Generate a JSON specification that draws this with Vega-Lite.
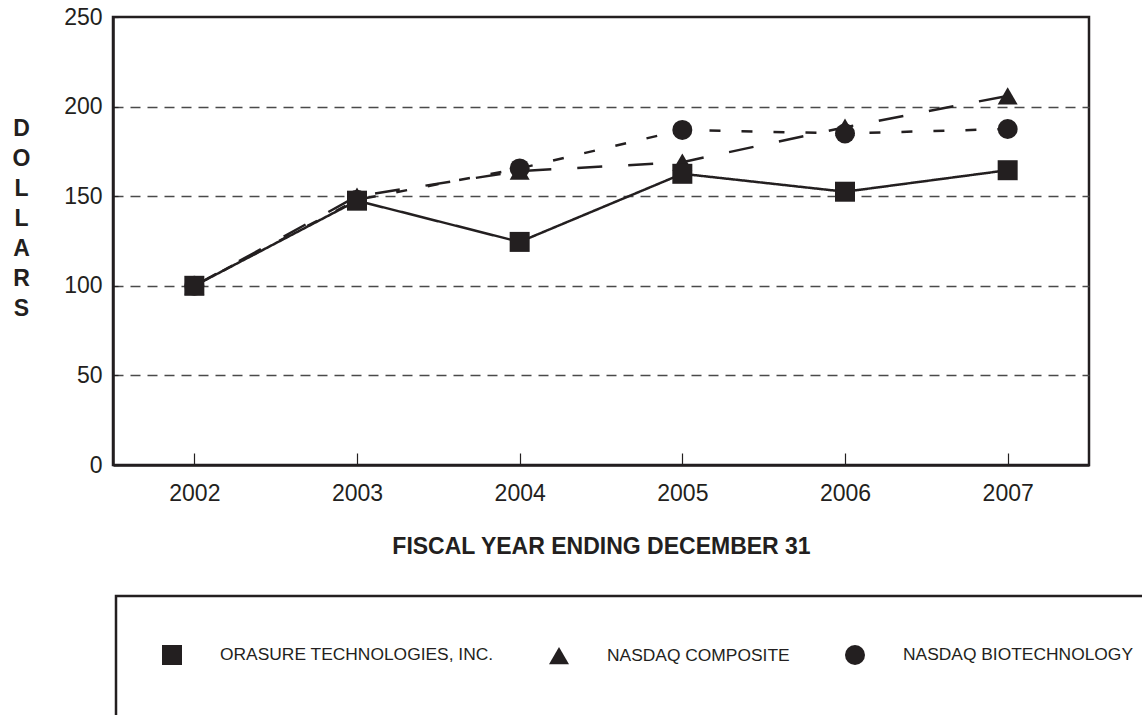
{
  "$schema": "https://vega.github.io/schema/vega-lite/v6.json",
  "width": 976,
  "height": 448,
  "autosize": {"type": "none"},
  "padding": {"left": 113, "top": 17, "right": 53, "bottom": 250},
  "background": "white",
  "config": {
    "font": "Liberation Sans",
    "view": {"stroke": "#231f20", "strokeWidth": 2.5},
    "legend": {"strokeWidth": 2.5}
  },
  "data": {
    "values": [
      {"year": "2002", "series": "NASDAQ COMPOSITE", "value": 100},
      {"year": "2003", "series": "NASDAQ COMPOSITE", "value": 150},
      {"year": "2004", "series": "NASDAQ COMPOSITE", "value": 164},
      {"year": "2005", "series": "NASDAQ COMPOSITE", "value": 169},
      {"year": "2006", "series": "NASDAQ COMPOSITE", "value": 188.5},
      {"year": "2007", "series": "NASDAQ COMPOSITE", "value": 206},
      {"year": "2002", "series": "NASDAQ BIOTECHNOLOGY", "value": 100},
      {"year": "2003", "series": "NASDAQ BIOTECHNOLOGY", "value": 148},
      {"year": "2004", "series": "NASDAQ BIOTECHNOLOGY", "value": 165.5},
      {"year": "2005", "series": "NASDAQ BIOTECHNOLOGY", "value": 187},
      {"year": "2006", "series": "NASDAQ BIOTECHNOLOGY", "value": 185},
      {"year": "2007", "series": "NASDAQ BIOTECHNOLOGY", "value": 187.5},
      {"year": "2002", "series": "ORASURE TECHNOLOGIES, INC.", "value": 100},
      {"year": "2003", "series": "ORASURE TECHNOLOGIES, INC.", "value": 147.5},
      {"year": "2004", "series": "ORASURE TECHNOLOGIES, INC.", "value": 124.5},
      {"year": "2005", "series": "ORASURE TECHNOLOGIES, INC.", "value": 162.5},
      {"year": "2006", "series": "ORASURE TECHNOLOGIES, INC.", "value": 152.5},
      {"year": "2007", "series": "ORASURE TECHNOLOGIES, INC.", "value": 164.5}
    ]
  },
  "encoding": {
    "x": {
      "field": "year",
      "type": "ordinal",
      "scale": {"type": "point", "padding": 0.5},
      "axis": {
        "title": "FISCAL YEAR ENDING DECEMBER 31",
        "titleFont": "Liberation Sans",
        "titleFontSize": 23,
        "titleFontWeight": "bold",
        "titleColor": "#231f20",
        "titleBaseline": "alphabetic",
        "titleY": 88,
        "labelAngle": 0,
        "labelFont": "Liberation Sans",
        "labelFontSize": 23,
        "labelColor": "#231f20",
        "labelPadding": 29,
        "tickSize": -12,
        "tickColor": "#231f20",
        "tickWidth": 1.2,
        "domainColor": "#231f20",
        "domainWidth": 2.5,
        "grid": false
      }
    },
    "y": {
      "field": "value",
      "type": "quantitative",
      "scale": {"domain": [0, 250], "nice": false},
      "axis": {
        "values": [0, 50, 100, 150, 200, 250],
        "title": ["D", "O", "L", "L", "A", "R", "S"],
        "titleAngle": 0,
        "titleFont": "Liberation Sans",
        "titleFontSize": 23,
        "titleFontWeight": "bold",
        "titleColor": "#231f20",
        "titleLineHeight": 30,
        "titleAlign": "center",
        "titleBaseline": "middle",
        "titleX": -92,
        "titleY": 111,
        "labelFont": "Liberation Sans",
        "labelFontSize": 23,
        "labelColor": "#231f20",
        "labelPadding": 16,
        "tickSize": -5,
        "tickColor": "#231f20",
        "tickWidth": 1.2,
        "domainColor": "#231f20",
        "domainWidth": 2.5,
        "grid": true,
        "gridColor": "#4a4a4a",
        "gridWidth": 1.3,
        "gridDash": [10, 7],
        "gridOpacity": {"condition": {"test": "datum.value === 0 || datum.value === 250", "value": 0}, "value": 1}
      }
    }
  },
  "layer": [
    {
      "mark": {"type": "line", "color": "#231f20", "strokeWidth": 2.5},
      "encoding": {
        "strokeDash": {
          "field": "series",
          "type": "nominal",
          "scale": {
            "domain": ["NASDAQ BIOTECHNOLOGY", "NASDAQ COMPOSITE", "ORASURE TECHNOLOGIES, INC."],
            "range": [[11, 21], [25, 26], [1, 0]]
          },
          "legend": null
        }
      }
    },
    {
      "mark": {"type": "point", "filled": true, "opacity": 1, "color": "#231f20", "size": 400},
      "encoding": {
        "shape": {
          "field": "series",
          "type": "nominal",
          "scale": {
            "domain": ["ORASURE TECHNOLOGIES, INC.", "NASDAQ COMPOSITE", "NASDAQ BIOTECHNOLOGY"],
            "range": ["square", "triangle-up", "circle"]
          },
          "legend": {
            "title": " ",
            "titleOrient": "bottom",
            "titleFontSize": 20,
            "titlePadding": 5,
            "orient": "none",
            "legendX": 3,
            "legendY": 579,
            "direction": "horizontal",
            "padding": 49,
            "strokeColor": "#231f20",
            "fillColor": "white",
            "columnPadding": 55,
            "symbolSize": 400,
            "symbolStrokeWidth": 0,
            "symbolFillColor": "#231f20",
            "symbolOffset": -3,
            "labelFont": "Liberation Sans",
            "labelFontSize": 17.4,
            "labelColor": "#231f20",
            "labelOffset": 38,
            "labelLimit": 600
          }
        }
      }
    }
  ]
}
